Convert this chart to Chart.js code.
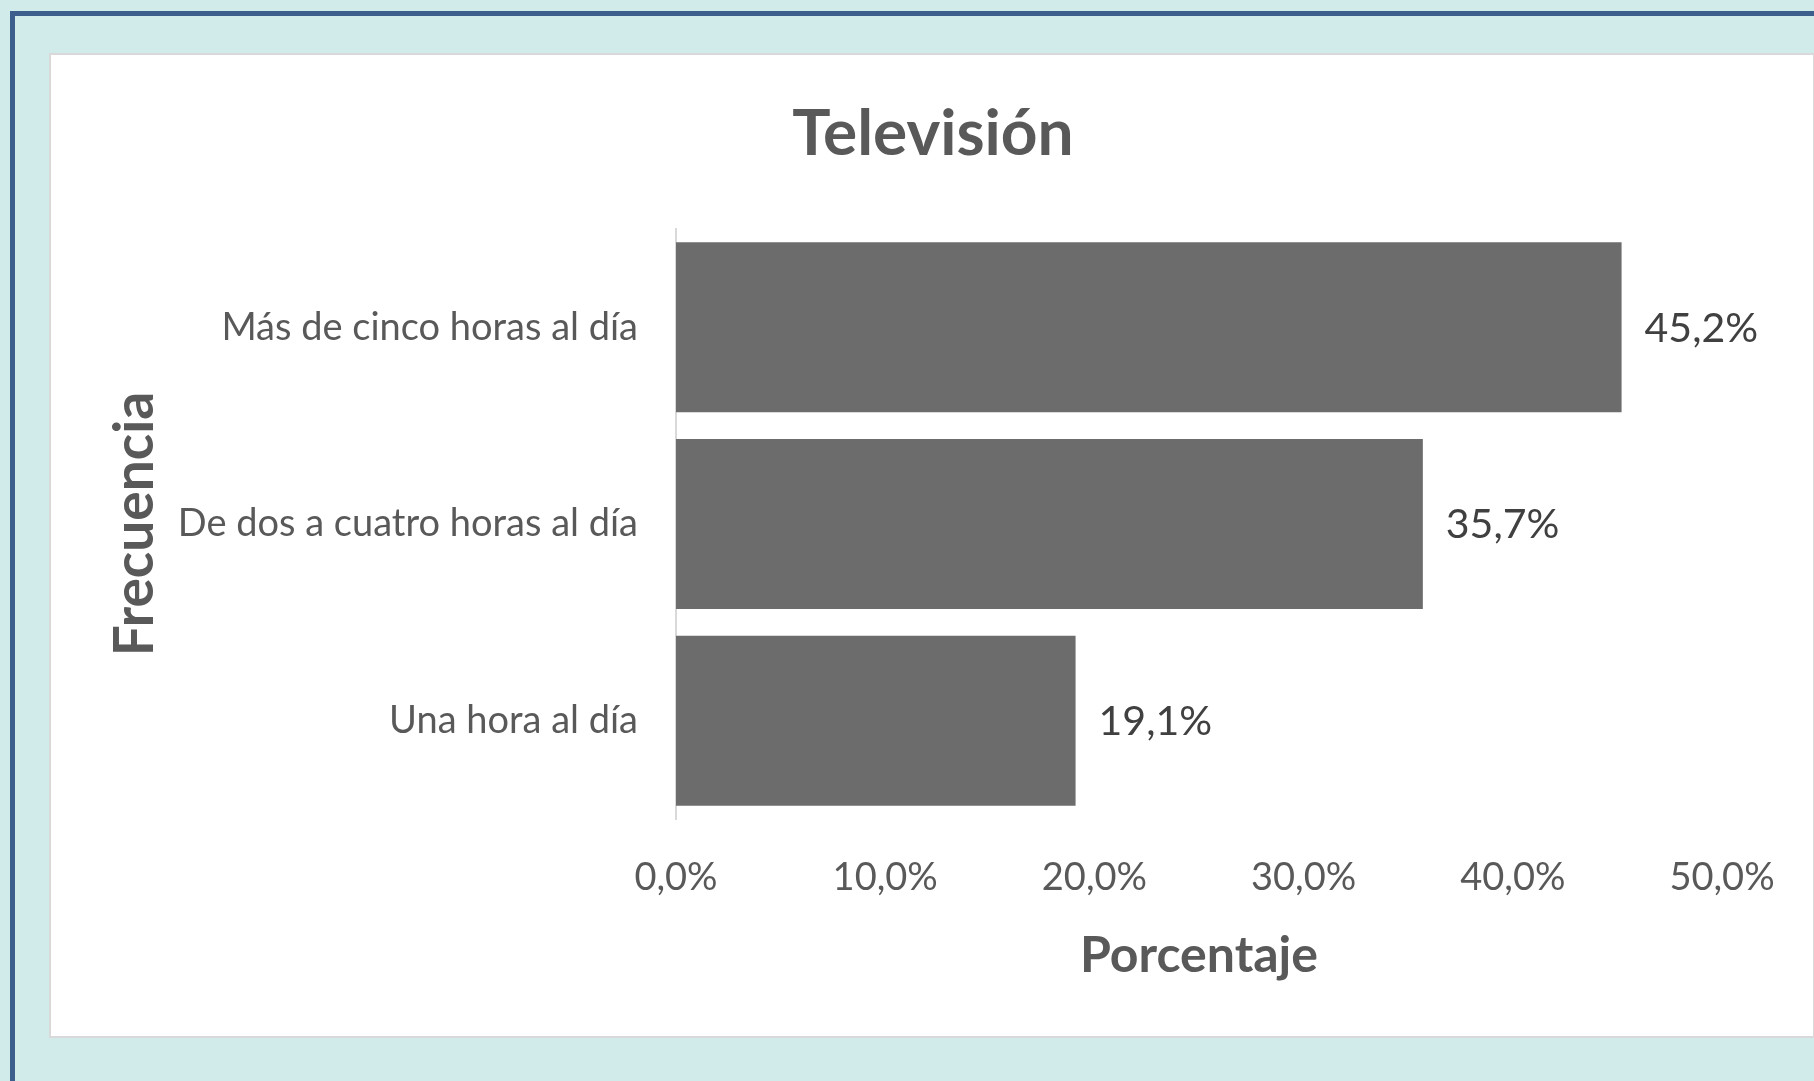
<!DOCTYPE html>
<html lang="es">
<head>
<meta charset="utf-8">
<title>Televisión</title>
<script src="https://cdn.jsdelivr.net/npm/chart.js@4.4.1/dist/chart.umd.min.js"></script>
<style>
  html, body { margin: 0; padding: 0; }
  body {
    width: 1814px;
    height: 1081px;
    overflow: hidden;
    position: relative;
    background: #d1eaea;
    font-family: Lato, sans-serif;
  }
  .frame {
    position: absolute;
    left: 10px;
    top: 11px;
    width: 1830px;
    height: 1100px;
    border: 5px solid #3b5e8c;
    box-sizing: border-box;
  }
  .panel {
    position: absolute;
    left: 49px;
    top: 53px;
    width: 1766px;
    height: 985px;
    background: #fff;
    border: 2px solid #d9d9d9;
    box-sizing: border-box;
  }
  #chart { position: absolute; left: 0; top: 0; }
</style>
</head>
<body>
<div class="frame"></div>
<div class="panel"></div>
<canvas id="chart" width="1814" height="1081"></canvas>

<script>
// Televisión — frecuencia de uso (porcentaje)

const CATEGORIES = ["Más de cinco horas al día", "De dos a cuatro horas al día", "Una hora al día"];
const PERCENTAGES = [45.2, 35.7, 19.1];
const X_TICKS = [0, 10, 20, 30, 40, 50];

const TEXT_COLOR = "#595959";
const LABEL_COLOR = "#404040";
const BAR_COLOR = "#6c6c6c";

function formatPct(value) {
  return `${Number(value).toFixed(1).replace(".", ",")}%`;
}

// draws the value right after the end of each bar
const barValueLabels = {
  id: "barValueLabels",
  afterDatasetsDraw(chart) {
    const { ctx } = chart;
    const meta = chart.getDatasetMeta(0);
    ctx.save();
    ctx.font = "41px Lato";
    ctx.fillStyle = LABEL_COLOR;
    ctx.textAlign = "left";
    ctx.textBaseline = "middle";
    meta.data.forEach((bar, i) => {
      ctx.fillText(formatPct(PERCENTAGES[i]), bar.x + 23, bar.y + 1);
    });
    ctx.restore();
  },
};

// the title is centred on the white panel, not on the chart box
const centerTitleOnPanel = {
  id: "centerTitleOnPanel",
  afterLayout(chart) {
    if (chart.titleBlock) {
      chart.titleBlock.left = 52;
      chart.titleBlock.right = chart.width;
    }
  },
};

function buildChart() {
  Chart.defaults.font.family = "Lato, sans-serif";
  Chart.defaults.color = TEXT_COLOR;

  new Chart(document.getElementById("chart"), {
    type: "bar",
    data: {
      labels: CATEGORIES,
      datasets: [
        {
          label: "Porcentaje",
          data: PERCENTAGES,
          backgroundColor: BAR_COLOR,
          borderWidth: 0,
          barPercentage: 0.864,
          categoryPercentage: 1,
        },
      ],
    },
    options: {
      indexAxis: "y",
      responsive: false,
      animation: false,
      layout: { padding: { left: 0, right: 92, top: 0, bottom: 0 } },
      plugins: {
        legend: { display: false },
        tooltip: { enabled: false },
        title: {
          display: true,
          text: "Televisión",
          color: TEXT_COLOR,
          font: { size: 64, weight: "bold" },
          padding: { top: 96, bottom: 56.2 },
        },
      },
      scales: {
        x: {
          min: X_TICKS[0],
          max: X_TICKS[X_TICKS.length - 1],
          grid: { display: false },
          border: { display: false },
          ticks: {
            stepSize: X_TICKS[1] - X_TICKS[0],
            autoSkip: false,
            maxRotation: 0,
            color: TEXT_COLOR,
            font: { size: 38 },
            padding: 28,
            callback: (value) => formatPct(value),
          },
          title: {
            display: true,
            text: "Porcentaje",
            color: TEXT_COLOR,
            font: { size: 50, weight: "bold" },
            padding: { top: 0, bottom: 95 },
          },
          afterFit(scale) {
            scale.height = 262;
          },
        },
        y: {
          grid: { display: false },
          border: { display: true, color: "#d9d9d9", width: 2 },
          ticks: {
            color: TEXT_COLOR,
            font: { size: 38 },
            padding: 30,
          },
          title: {
            display: true,
            text: "Frecuencia",
            color: TEXT_COLOR,
            font: { size: 55, weight: "bold" },
            padding: { top: 102, bottom: 0 },
          },
          afterFit(scale) {
            scale.width = 676;
          },
        },
      },
    },
    plugins: [barValueLabels, centerTitleOnPanel],
  });
}

if (document.fonts && document.fonts.load) {
  Promise.all([document.fonts.load("38px Lato"), document.fonts.load("bold 62px Lato")])
    .catch(() => {})
    .then(buildChart);
} else {
  buildChart();
}
</script>
</body>
</html>
